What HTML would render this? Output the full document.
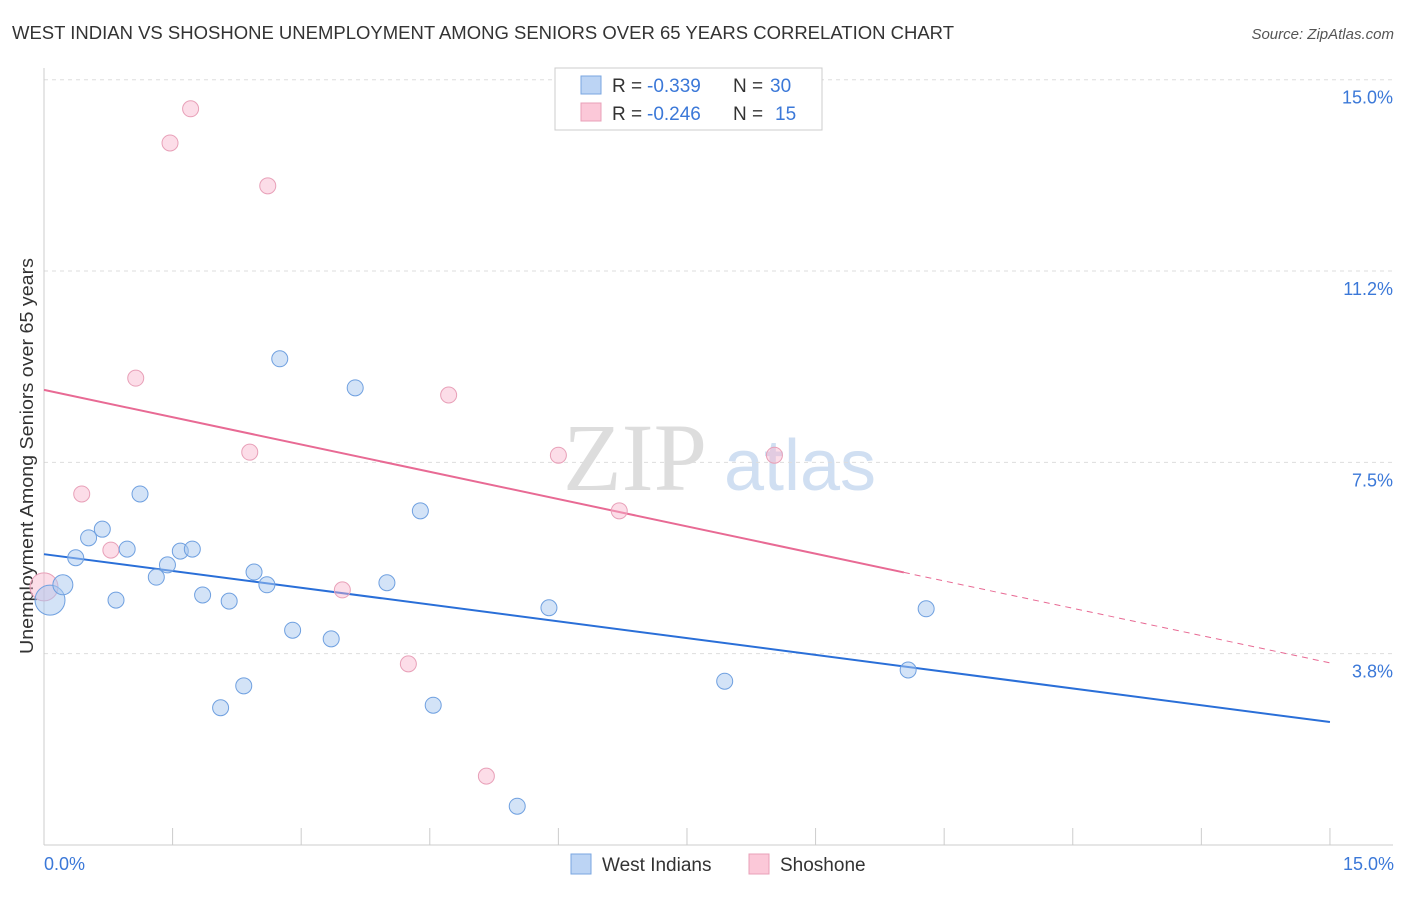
<!DOCTYPE html>
<html><head><meta charset="utf-8"><style>
body{margin:0;background:#fff;font-family:"Liberation Sans",sans-serif;}
svg text{font-family:"Liberation Sans",sans-serif;}
</style></head><body>
<svg id="chart" width="1406" height="892">
<text x="12" y="39" font-size="18" fill="#333" textLength="942" lengthAdjust="spacingAndGlyphs">WEST INDIAN VS SHOSHONE UNEMPLOYMENT AMONG SENIORS OVER 65 YEARS CORRELATION CHART</text>
<text x="1394" y="39" font-size="15" fill="#555" text-anchor="end" font-style="italic">Source: ZipAtlas.com</text>
<text transform="translate(33,456) rotate(-90)" font-size="18" fill="#333" text-anchor="middle" textLength="396" lengthAdjust="spacingAndGlyphs">Unemployment Among Seniors over 65 years</text>
<g><text x="635" y="490" font-size="96" fill="#ddd" text-anchor="middle" font-family="Liberation Serif" style="font-family:'Liberation Serif',serif">ZIP</text><text x="800" y="490" font-size="72" fill="#d0dff2" text-anchor="middle">atlas</text></g>
<g id="grid"></g><g id="lines"></g><g id="pts"></g>
<g>
<rect x="555" y="68" width="267" height="62" fill="#fff" stroke="#ccc"/>
<rect x="581" y="76" width="20" height="18" fill="#bcd4f4" stroke="#7aa6e0"/>
<text x="612" y="92" font-size="19" fill="#333">R =</text><text x="647" y="92" font-size="19" fill="#3b78d8">-0.339</text>
<text x="733" y="92" font-size="19" fill="#333">N =</text><text x="770" y="92" font-size="19" fill="#3b78d8">30</text>
<rect x="581" y="103" width="20" height="18" fill="#fbc8d8" stroke="#e8a0b8"/>
<text x="612" y="120" font-size="19" fill="#333">R =</text><text x="647" y="120" font-size="19" fill="#3b78d8">-0.246</text>
<text x="733" y="120" font-size="19" fill="#333">N =</text><text x="775" y="120" font-size="19" fill="#3b78d8">15</text>
</g>
<g>
<rect x="571" y="854" width="20" height="20" fill="#bcd4f4" stroke="#7aa6e0"/>
<text x="602" y="871" font-size="19" fill="#333">West Indians</text>
<rect x="749" y="854" width="20" height="20" fill="#fbc8d8" stroke="#e8a0b8"/>
<text x="780" y="871" font-size="19" fill="#333">Shoshone</text>
</g>
<text x="44" y="870" font-size="18" fill="#3b78d8">0.0%</text>
<text x="1394" y="870" font-size="18" fill="#3b78d8" text-anchor="end">15.0%</text>
</svg>
<script>
const yTicks=[15.0,11.25,7.5,3.75];
const yTickLabels=["15.0%","11.2%","7.5%","3.8%"];
const xTicks=[0,1.5,3,4.5,6,7.5,9,10.5,12,13.5,15];
const blueX=[0.07,0.22,0.37,0.52,0.68,0.84,0.97,1.12,1.31,1.44,1.59,1.73,1.85,2.06,2.16,2.33,2.45,2.60,2.75,2.90,3.35,3.63,4.00,4.39,4.54,5.52,5.89,7.94,10.08,10.29];
const blueY=[4.80,5.10,5.63,6.02,6.19,4.80,5.80,6.88,5.25,5.49,5.76,5.80,4.90,2.69,4.78,3.12,5.35,5.10,9.53,4.21,4.04,8.96,5.14,6.55,2.74,0.76,4.65,3.21,3.43,4.63];
const pinkX=[0,0.44,0.78,1.07,1.47,1.71,2.40,2.61,3.48,4.25,4.72,5.16,6.00,6.71,8.52];
const pinkY=[5.06,6.88,5.78,9.15,13.76,14.43,7.70,12.92,5.00,3.55,8.82,1.35,7.64,6.55,7.64];
const blueTrend=[5.70,2.41];
const pinkTrend=[8.92,3.57];
const pinkSolidEnd=10.03;
const X=v=>44+v*85.73, Y=v=>845-v*51.02;
const NS="http://www.w3.org/2000/svg";
function mk(tag,attrs,parent){const e=document.createElementNS(NS,tag);for(const k in attrs)e.setAttribute(k,attrs[k]);parent.appendChild(e);return e;}
const grid=document.getElementById('grid'),lines=document.getElementById('lines'),pts=document.getElementById('pts');
yTicks.forEach((t,i)=>{
 const l=mk('line',{x1:44,x2:1393,y1:Y(t),y2:Y(t),stroke:'#ddd','stroke-dasharray':'4,4'},grid);
 
 
 const tx=mk('text',{x:1393,y:Y(t)+24,'font-size':18,fill:'#3b78d8','text-anchor':'end'},grid);
 tx.textContent=yTickLabels[i];
 
 
});
const ax=mk('line',{x1:44,x2:44,y1:68,y2:845,stroke:'#ccc'},grid);


const bx=mk('line',{x1:44,x2:1393,y1:845,y2:845,stroke:'#ccc'},grid);


xTicks.forEach(t=>{
 const l=mk('line',{x1:X(t),x2:X(t),y1:828,y2:845,stroke:'#ccc'},grid);
 
 
});
let l1=mk('line',{x1:X(0),y1:Y(blueTrend[0]),x2:X(15),y2:Y(blueTrend[1]),stroke:'#2a6fd8','stroke-width':2},lines);


const pAt=x=>pinkTrend[0]+(pinkTrend[1]-pinkTrend[0])*x/15;
let l2=mk('line',{x1:X(0),y1:Y(pinkTrend[0]),x2:X(pinkSolidEnd),y2:Y(pAt(pinkSolidEnd)),stroke:'#e86a94','stroke-width':2},lines);


let l3=mk('line',{x1:X(pinkSolidEnd),y1:Y(pAt(pinkSolidEnd)),x2:X(15),y2:Y(pinkTrend[1]),stroke:'#e86a94','stroke-width':1,'stroke-dasharray':'6,5'},lines);


pinkX.forEach((x,i)=>{
 const c=mk('circle',{cx:X(x),cy:Y(pinkY[i]),r:i===0?14:8,fill:'rgba(248,180,204,0.45)',stroke:'#e8a0b8','stroke-width':1},pts);
 
 
});
blueX.forEach((x,i)=>{
 const c=mk('circle',{cx:X(x),cy:Y(blueY[i]),r:i===0?15:(i===1?10:8),fill:'rgba(168,200,240,0.5)',stroke:'#6fa0e0','stroke-width':1},pts);
 
 
});
</script>
</body></html>
